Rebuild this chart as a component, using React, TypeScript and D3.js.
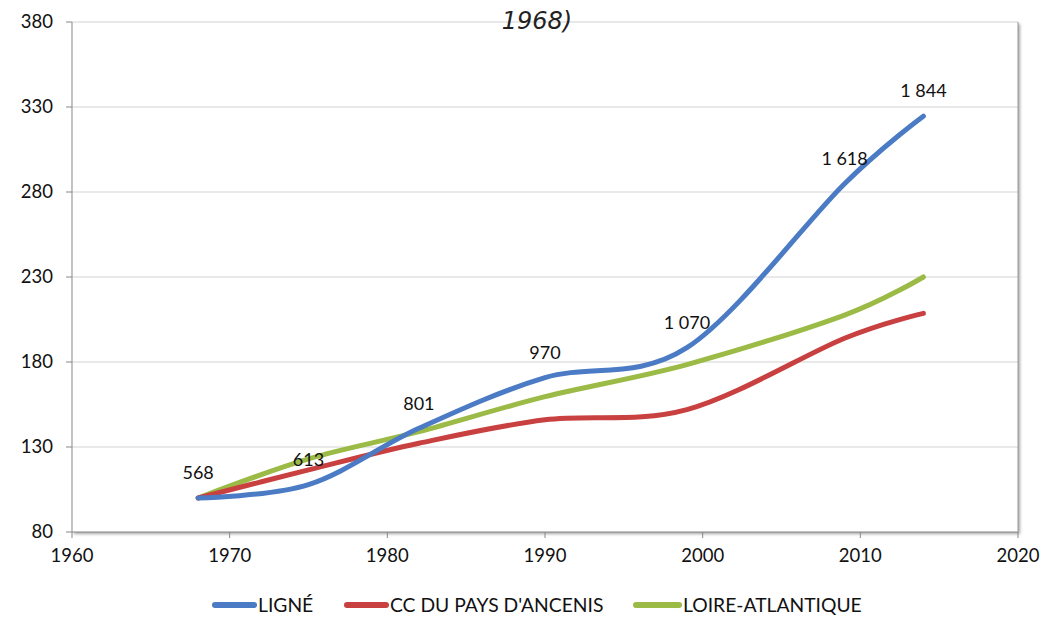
import React from "react";
import * as d3 from "d3";

const years = [1968, 1975, 1982, 1990, 1999, 2009, 2014];
const ligne = [100, 107.9, 141.0, 170.8, 188.4, 284.9, 324.6];
const ccAncenis = [100, 116.5, 132.2, 146.0, 152.0, 194.0, 208.6];
const loireAtl = [100, 123.0, 139.0, 159.6, 178.5, 207.6, 230.0];
const ligneLabels = ["568", "613", "801", "970", "1 070", "1 618", "1 844"];
const xTicks = [1960, 1970, 1980, 1990, 2000, 2010, 2020];
const yTicks = [80, 130, 180, 230, 280, 330, 380];
const seriesNames = ["LIGNÉ", "CC DU PAYS D'ANCENIS", "LOIRE-ATLANTIQUE"];
const seriesColors = ["#4A7BC4", "#C8403F", "#9BBB46"];
const titleTail = "1968)";

const W = 1059;
const H = 617;
const left = 72;
const right = 1018;
const top = 22;
const bottom = 532;

export default function App() {
  const x = d3.scaleLinear().domain([1960, 2020]).range([left, right]);
  const y = d3.scaleLinear().domain([80, 380]).range([bottom, top]);
  const line = d3
    .line<number>()
    .x((_, i) => x(years[i]))
    .y((d) => y(d))
    .curve(d3.curveCardinal.tension(0));
  const series = [ligne, ccAncenis, loireAtl];
  const font = "Lato, 'Open Sans', sans-serif";
  const legendItems = [
    { x0: 215, tx: 258 },
    { x0: 347, tx: 390 },
    { x0: 636, tx: 683 },
  ];
  return (
    <svg
      width={W}
      height={H}
      style={{ position: "absolute", left: 0, top: 0, background: "#fff" }}
    >
      <defs>
        <filter id="sh" x="-5%" y="-5%" width="110%" height="110%">
          <feDropShadow dx="2" dy="2" stdDeviation="1.5" floodColor="#000" floodOpacity="0.35" />
        </filter>
      </defs>
      <rect
        x={left}
        y={top}
        width={right - left}
        height={bottom - top}
        fill="#fff"
        filter="url(#sh)"
      />
      {yTicks.map((t) => (
        <g key={t}>
          {t !== 80 && (
            <line x1={left} x2={right} y1={y(t)} y2={y(t)} stroke="#d4d4d4" strokeWidth={1.2} />
          )}
          <line x1={left - 6} x2={left} y1={y(t)} y2={y(t)} stroke="#888" />
          <text
            x={53}
            y={y(t)}
            dy="0.35em"
            textAnchor="end"
            fontFamily={font}
            fontSize={18.5}
            fill="#111"
          >
            {t}
          </text>
        </g>
      ))}
      {xTicks.map((t) => (
        <g key={t}>
          <line x1={x(t)} x2={x(t)} y1={bottom} y2={bottom + 6} stroke="#888" />
          <text
            x={x(t)}
            y={562}
            textAnchor="middle"
            fontFamily={font}
            fontSize={18.5}
            fill="#111"
          >
            {t}
          </text>
        </g>
      ))}
      <line x1={left} x2={left} y1={top} y2={bottom} stroke="#888" />
      <line x1={left} x2={right} y1={bottom} y2={bottom} stroke="#888" />
      <line x1={right} x2={right} y1={top} y2={bottom} stroke="#999" />
      <text
        x={537}
        y={29}
        textAnchor="middle"
        fontFamily="'DejaVu Sans', sans-serif"
        fontStyle="italic"
        fontWeight={300}
        fontSize={24}
        fill="#222"
      >
        {titleTail}
      </text>
      {[2, 1, 0].map((si) => (
        <path
          key={si}
          d={line(series[si]) || ""}
          fill="none"
          stroke={seriesColors[si]}
          strokeWidth={5}
          strokeLinecap="round"
          strokeLinejoin="round"
        />
      ))}
      {ligne.map((v, i) => (
        <text
          key={i}
          x={x(years[i])}
          y={y(v) - 25}
          dy="0.35em"
          textAnchor="middle"
          fontFamily={font}
          fontSize={18}
          fill="#111"
        >
          {ligneLabels[i]}
        </text>
      ))}
      {seriesNames.map((n, i) => (
        <g key={n}>
          <line
            x1={legendItems[i].x0}
            x2={legendItems[i].tx - 4}
            y1={605}
            y2={605}
            stroke={seriesColors[i]}
            strokeWidth={6}
            strokeLinecap="round"
          />
          <text
            x={legendItems[i].tx}
            y={605}
            dy="0.35em"
            fontFamily={font}
            fontSize={19.3}
            fill="#111"
          >
            {n}
          </text>
        </g>
      ))}
    </svg>
  );
}
